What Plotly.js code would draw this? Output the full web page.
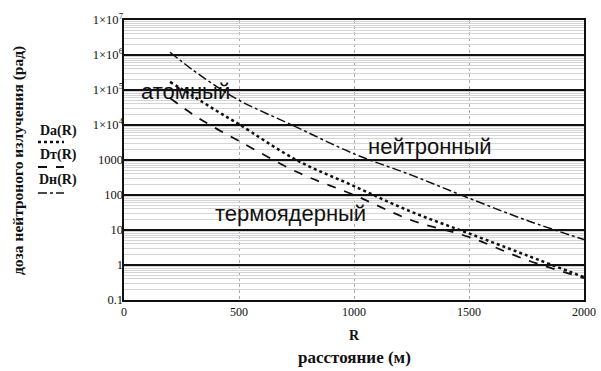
<!DOCTYPE html>
<html>
<head>
<meta charset="utf-8">
<script src="https://cdn.plot.ly/plotly-3.0.1.min.js"></script>
<style>html,body{margin:0;padding:0;background:#fff;}#chart{width:601px;height:371px;}</style>
</head>
<body>
<div id="chart"></div>
<script>
// distance R (m)
const R = [200, 300, 400, 500, 750, 1000, 1250, 1500, 1750, 2000];
// Dа(R) – atomic (dotted)
const Da = [1.7e5, 6.7e4, 2.6e4, 1.05e4, 1.0e3, 180, 33, 8, 1.9, 0.45];
// Dт(R) – thermonuclear (dashed)
const Dt = [5.9e4, 2.0e4, 8.0e3, 3.5e3, 460, 100, 19, 6.3, 1.4, 0.42];
// Dн(R) – neutron (dash-dot)
const Dn = [1.2e6, 3.7e5, 1.3e5, 5.1e4, 8.7e3, 1.5e3, 370, 81, 19, 5.3];

const yTickVals = [0.1, 1, 10, 100, 1000, 1e4, 1e5, 1e6, 1e7];
const yTickText = ['0.1', '1', '10', '100', '1000', '1×10<sup>4</sup>', '1×10<sup>5</sup>', '1×10<sup>6</sup>', '1×10<sup>7</sup>'];
const xTickVals = [0, 500, 1000, 1500, 2000];

const minorVals = [];
for (let e = -1; e < 7; e++) {
  for (let m = 2; m <= 9; m++) minorVals.push(m * Math.pow(10, e));
}

const ink = '#111';
const serif = 'Liberation Serif, Times New Roman, serif';
const sans = 'Liberation Sans, Arial, sans-serif';

const traces = [
  {x: R, y: Da, mode: 'lines', line: {color: ink, width: 2.5, dash: 'dot', shape: 'spline'}, name: 'Dа(R)'},
  {x: R, y: Dt, mode: 'lines', line: {color: ink, width: 1.8, dash: 'dash', shape: 'spline'}, name: 'Dт(R)'},
  {x: R, y: Dn, mode: 'lines', line: {color: ink, width: 1.5, dash: 'dashdot', shape: 'spline'}, name: 'Dн(R)'},
  {x: [null], y: [null], yaxis: 'y2', mode: 'lines', showlegend: false, hoverinfo: 'skip'}
];

function px2py(p) { return (300 - p) / 280; }
function px2px(p) { return (p - 124) / 460; }

function ann(text, px, py, font, extra) {
  return Object.assign({text: text, xref: 'paper', yref: 'paper', x: px2px(px), y: px2py(py),
    xanchor: 'center', yanchor: 'middle', showarrow: false, font: font}, extra || {});
}

const labelFont = {family: sans, size: 22, color: ink};
const legFont = {family: serif, size: 14, color: ink};

const layout = {
  width: 601, height: 371,
  margin: {l: 124, r: 17, t: 20, b: 71},
  paper_bgcolor: '#fff', plot_bgcolor: '#fff',
  showlegend: false,
  xaxis: {
    range: [0, 2000], tickvals: xTickVals, ticktext: xTickVals.map(String),
    showgrid: true, gridcolor: '#aaa', griddash: 'dot', gridwidth: 1,
    zeroline: false, showline: true, linecolor: ink, linewidth: 2, mirror: true,
    ticks: '', tickfont: {family: serif, size: 12, color: ink}
  },
  yaxis: {
    type: 'log', range: [-1, 7],
    tickvals: minorVals, ticktext: minorVals.map(() => ''),
    showgrid: true, gridcolor: '#d4d4d4', gridwidth: 1,
    zeroline: false, showline: true, linecolor: ink, linewidth: 2, mirror: true,
    ticks: ''
  },
  yaxis2: {
    type: 'log', range: [-1, 7], overlaying: 'y', side: 'left',
    tickvals: yTickVals, ticktext: yTickText,
    showgrid: true, gridcolor: '#111', gridwidth: 2,
    zeroline: false, showline: false, ticks: '',
    tickfont: {family: serif, size: 12.5, color: ink}
  },
  annotations: [
    ann('атомный', 185, 91, labelFont),
    ann('нейтронный', 430, 146, labelFont),
    ann('термоядерный', 290, 213, labelFont),
    ann('<b>R</b>', 354, 335, {family: serif, size: 14, color: ink}),
    ann('<b>расстояние (м)</b>', 354, 357, {family: serif, size: 17, color: ink}),
    ann('<b>доза нейтроного излучения (рад)</b>', 18, 161, {family: serif, size: 15.5, color: ink}, {textangle: -90}),
    ann('<b>Dа(R)</b>', 58, 131, legFont),
    ann('<b>Dт(R)</b>', 58, 155, legFont),
    ann('<b>Dн(R)</b>', 58, 180, legFont)
  ],
  shapes: [
    {type: 'line', xref: 'paper', yref: 'paper', x0: px2px(38), x1: px2px(64), y0: px2py(142), y1: px2py(142),
     line: {color: ink, width: 2.5, dash: 'dot'}},
    {type: 'line', xref: 'paper', yref: 'paper', x0: px2px(38), x1: px2px(64), y0: px2py(167), y1: px2py(167),
     line: {color: ink, width: 1.8, dash: 'dash'}},
    {type: 'line', xref: 'paper', yref: 'paper', x0: px2px(38), x1: px2px(64), y0: px2py(193), y1: px2py(193),
     line: {color: ink, width: 1.5, dash: 'dashdot'}}
  ]
};

Plotly.newPlot('chart', traces, layout, {displayModeBar: false, staticPlot: true});
</script>
</body>
</html>
